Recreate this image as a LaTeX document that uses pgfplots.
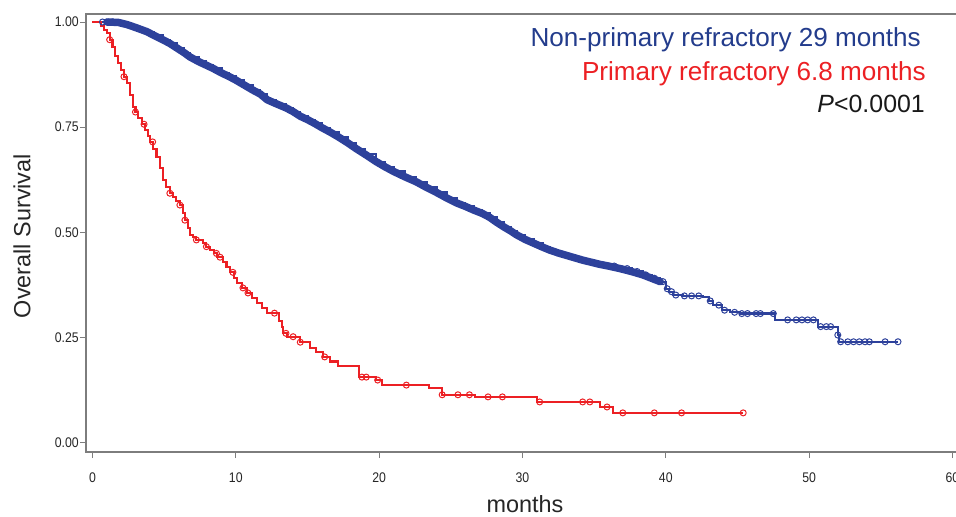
\documentclass[border=0pt]{standalone}
\usepackage{pgfplots}
\pgfplotsset{compat=1.18}
\usepackage{fontspec}
\setmainfont{Liberation Sans}
\newfontfamily\narrowsans[FakeStretch=0.88]{Liberation Sans}
\definecolor{kmblue}{RGB}{45,65,155}
\definecolor{txtblue}{RGB}{35,60,140}
\definecolor{kmred}{RGB}{236,32,36}
\definecolor{axgray}{RGB}{125,125,125}
\begin{document}
\begin{tikzpicture}[x=1bp,y=1bp]
\begin{axis}[
  at={(86bp,-452bp)}, anchor=south west,
  scale only axis, width=880.8bp, height=438bp,
  xmin=-0.45, xmax=61, ymin=-0.022, ymax=1.019,
  xtick={0,10,20,30,40,50,60},
  xticklabels={0,10,20,30,40,50,60},
  ytick={0,0.25,0.5,0.75,1},
  yticklabels={0.00,0.25,0.50,0.75,1.00},
  xtick pos=bottom, ytick pos=left,
  tick align=outside,
  major tick length=6bp,
  tick style={axgray, line width=0.8bp},
  axis line style={axgray, line width=1.6bp},
  /pgf/number format/assume math mode=true,
  tick label style={font=\narrowsans\fontsize{14}{14}\selectfont, text=black!85, inner sep=1bp},
  xticklabel style={yshift=-14bp},
  xlabel={months}, ylabel={Overall Survival},
  label style={font=\fontsize{23.5}{23.5}\selectfont, text=black!85},
  xlabel style={at={(axis description cs:0.4984,-0.1370)}, anchor=base},
  ylabel style={at={(axis description cs:-0.0727,0.493)}, anchor=center},
  clip=false,
]
% non-primary refractory: thick band (dense censoring marks)
\addplot[sharp plot, kmblue, line width=7.5bp, line cap=round, line join=round] coordinates {
(1.0,1.000)(1.8,0.999)(2.4,0.994)(3.0,0.987)(3.8,0.977)(4.3,0.968)(4.9,0.958)
(5.4,0.949)(5.9,0.938)(6.4,0.927)(6.8,0.917)(7.4,0.906)(7.9,0.898)(8.4,0.890)(9.0,0.879)
(9.5,0.871)(10.0,0.862)(10.6,0.850)(11.2,0.838)(11.7,0.829)(12.2,0.815)(12.8,0.806)(13.5,0.796)
(14.0,0.787)(14.5,0.776)(15.0,0.768)(15.5,0.759)(16.0,0.749)(16.6,0.738)(17.2,0.726)(17.8,0.713)
(18.4,0.699)(19.0,0.686)(19.8,0.668)(20.4,0.656)(21.0,0.645)(21.8,0.632)(22.6,0.620)(23.3,0.607)
(24.0,0.595)(24.7,0.582)(25.4,0.570)(26.0,0.562)(26.6,0.553)(27.2,0.545)(27.7,0.536)(28.2,0.524)
(28.7,0.513)(29.2,0.503)(29.6,0.494)(30.2,0.483)(30.8,0.474)(31.4,0.465)(31.9,0.458)(32.5,0.451)
(33.0,0.446)(33.6,0.440)(34.2,0.434)(34.8,0.429)(35.4,0.424)(36.0,0.420)(36.8,0.414)(37.6,0.407)
(38.4,0.399)(39.0,0.391)(39.6,0.383)
};
% non-primary refractory: full curve
\addplot[const plot, kmblue, line width=2.2bp] coordinates {
(0,1.000)(1.5,1.000)(2.0,0.996)(2.6,0.990)(3.2,0.984)(3.8,0.977)(4.3,0.968)(4.9,0.958)
(5.4,0.949)(5.9,0.938)(6.4,0.927)(6.8,0.917)(7.4,0.906)(7.9,0.898)(8.4,0.890)(9.0,0.879)
(9.5,0.871)(10.0,0.862)(10.6,0.850)(11.2,0.838)(11.7,0.829)(12.2,0.815)(12.8,0.806)(13.5,0.796)
(14.0,0.787)(14.5,0.776)(15.0,0.768)(15.5,0.759)(16.0,0.749)(16.6,0.738)(17.2,0.726)(17.8,0.713)
(18.4,0.699)(19.0,0.686)(19.8,0.668)(20.4,0.656)(21.0,0.645)(21.8,0.632)(22.6,0.620)(23.3,0.607)
(24.0,0.595)(24.7,0.582)(25.4,0.570)(26.0,0.562)(26.6,0.553)(27.2,0.545)(27.7,0.536)(28.2,0.524)
(28.7,0.513)(29.2,0.503)(29.6,0.494)(30.2,0.483)(30.8,0.474)(31.4,0.465)(31.9,0.458)(32.5,0.451)
(33.0,0.446)(33.6,0.440)(34.2,0.434)(34.8,0.429)(35.4,0.424)(36.0,0.420)(36.8,0.414)(37.6,0.407)
(38.4,0.399)(39.0,0.391)(39.6,0.383)(40.0,0.366)(40.2,0.359)(40.5,0.351)(41.2,0.349)(42.6,0.346)
(43.0,0.337)(43.3,0.327)(43.9,0.315)(44.5,0.310)(45.2,0.307)(47.6,0.292)(50.6,0.276)(52.0,0.256)
(52.1,0.240)(56.2,0.240)
};
% non-primary censor marks
\addplot[only marks, mark=o, mark size=3bp, kmblue, line width=1bp] coordinates {
(0.7,1.000)(1.1,1.000)(1.4,1.000)
(36.4,0.420)(36.9,0.414)(37.3,0.414)(38.0,0.407)(38.6,0.399)(39.2,0.391)(39.8,0.383)
(40.1,0.366)(40.4,0.359)(40.7,0.351)(41.3,0.349)(41.8,0.349)(42.3,0.349)(43.1,0.337)(43.7,0.327)
(44.1,0.315)(44.8,0.310)(45.3,0.307)(45.7,0.307)(46.3,0.307)(46.6,0.307)(47.5,0.307)
(48.5,0.292)(49.1,0.292)(49.5,0.292)(49.9,0.292)(50.3,0.292)
(50.8,0.276)(51.2,0.276)(51.5,0.276)(52.0,0.256)
(52.2,0.240)(52.7,0.240)(53.1,0.240)(53.5,0.240)(53.9,0.240)(54.2,0.240)(55.3,0.240)(56.2,0.240)
};
% primary refractory
\addplot[const plot, kmred, line width=2.1bp] coordinates {
(0,1.000)(0.4,1.000)(0.6,0.990)(0.8,0.982)(1.0,0.973)(1.2,0.958)(1.4,0.940)(1.6,0.920)(1.8,0.902)
(2.0,0.886)(2.2,0.870)(2.4,0.854)(2.6,0.826)(2.8,0.799)(3.0,0.786)(3.2,0.772)(3.45,0.757)(3.65,0.743)
(3.85,0.728)(4.0,0.715)(4.25,0.698)(4.47,0.680)(4.7,0.652)(4.9,0.624)(5.15,0.608)(5.4,0.593)
(5.6,0.584)(5.8,0.575)(6.1,0.565)(6.3,0.547)(6.45,0.529)(6.65,0.511)(6.8,0.494)(7.0,0.488)(7.2,0.482)
(7.7,0.475)(7.95,0.466)(8.2,0.458)(8.45,0.450)(8.7,0.441)(9.1,0.430)(9.35,0.418)(9.6,0.405)
(9.85,0.392)(10.1,0.380)(10.45,0.368)(10.8,0.356)(11.15,0.344)(11.5,0.332)(11.85,0.320)(12.2,0.308)
(13.0,0.290)(13.2,0.275)(13.3,0.260)(13.6,0.252)(14.5,0.239)(15.2,0.225)(15.6,0.215)(16.1,0.204)
(16.6,0.193)(17.1,0.182)(18.6,0.156)(19.8,0.149)(20.2,0.137)(23.5,0.130)(24.4,0.114)(26.7,0.109)
(31.0,0.097)(35.4,0.085)(36.3,0.071)(45.4,0.071)
};
\addplot[only marks, mark=o, mark size=3bp, kmred, line width=1bp] coordinates {
(1.2,0.958)(2.2,0.870)(3.0,0.786)(3.6,0.757)(4.2,0.715)
(5.4,0.593)(6.1,0.565)(6.45,0.529)(7.25,0.482)(7.95,0.466)(8.65,0.450)(8.9,0.441)(9.8,0.405)
(10.5,0.368)(10.85,0.356)(12.7,0.308)(13.5,0.260)(14.0,0.252)(14.5,0.239)(16.2,0.204)(18.8,0.156)
(19.1,0.156)(19.9,0.149)(21.9,0.137)(24.4,0.114)(25.5,0.114)(26.3,0.114)(27.6,0.109)(28.6,0.109)
(31.2,0.097)(34.2,0.097)(34.7,0.097)(35.9,0.085)(37.0,0.071)(39.2,0.071)(41.1,0.071)(45.4,0.071)
};
\end{axis}
\node[anchor=base east, inner sep=0pt, text=txtblue, font=\fontsize{26.2}{26.2}\selectfont] at (921bp,-46bp) {Non-primary refractory 29 months};
\node[anchor=base east, inner sep=0pt, text=kmred, font=\fontsize{26.2}{26.2}\selectfont] at (926bp,-80bp) {Primary refractory 6.8 months};
\node[anchor=base east, inner sep=0pt, text=black!90, font=\fontsize{25}{25}\selectfont] at (925bp,-112bp) {\textit{P}<0.0001};
\pgfresetboundingbox
\useasboundingbox (0bp,0bp) rectangle (956bp,-517bp);
\end{tikzpicture}
\end{document}
